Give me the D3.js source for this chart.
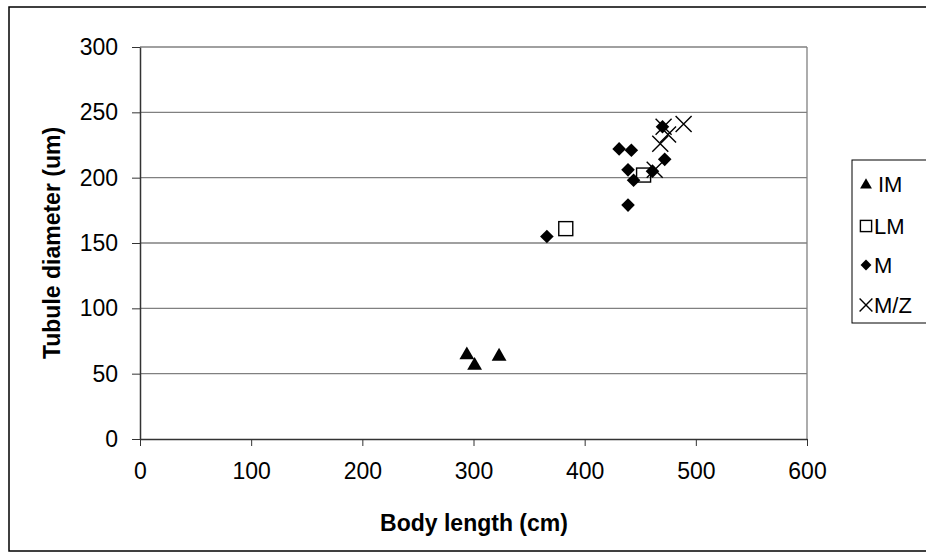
<!DOCTYPE html>
<html><head><meta charset="utf-8">
<script src="https://cdn.jsdelivr.net/npm/d3@7"></script>
<style>body{margin:0;background:#fff}svg{display:block;font-family:"Liberation Sans",Arial,sans-serif}</style>
</head><body><svg id="c" width="926" height="560"></svg>
<script>
const seriesNames = ["IM", "LM", "M", "M/Z"];
const imX = [294, 301, 323];
const imY = [65, 57, 64];
const lmX = [383, 453];
const lmY = [161, 202];
const mX = [366, 431, 442, 439, 444, 439, 461, 472, 470];
const mY = [155, 222, 221, 206, 198, 179, 205, 214, 239];
const mzX = [489, 471, 475, 468, 463];
const mzY = [241, 239, 233, 226, 206];
const xTicks = [0, 100, 200, 300, 400, 500, 600];
const yTicks = [0, 50, 100, 150, 200, 250, 300];

const svg = d3.select("#c");
const x = d3.scaleLinear().domain([0, 600]).range([140, 807]);
const y = d3.scaleLinear().domain([0, 300]).range([439, 47]);

// outer border
svg.append("rect").attr("x", 9).attr("y", 7).attr("width", 940).attr("height", 544)
  .attr("fill", "none").attr("stroke", "#000").attr("stroke-width", 1.5);

// gridlines
svg.append("g").selectAll("line").data(yTicks.filter(d => d > 0)).join("line")
  .attr("x1", 140).attr("x2", 807).attr("y1", d => y(d)).attr("y2", d => y(d))
  .attr("stroke", "#808080").attr("stroke-width", 1.3);
svg.append("line").attr("x1", 807).attr("x2", 807).attr("y1", 47).attr("y2", 439)
  .attr("stroke", "#808080").attr("stroke-width", 1.3);

// axes
const gx = svg.append("g").attr("transform", "translate(0,439)")
  .call(d3.axisBottom(x).tickValues(xTicks).tickSize(7).tickPadding(17).tickSizeOuter(0));
const gy = svg.append("g").attr("transform", "translate(140,0)")
  .call(d3.axisLeft(y).tickValues(yTicks).tickSize(8).tickPadding(14).tickSizeOuter(0));
[gx, gy].forEach(g => {
  g.select(".domain").attr("stroke", "#333").attr("stroke-width", 1.5);
  g.selectAll(".tick line").attr("stroke", "#333");
  g.selectAll("text").attr("font-size", 23).attr("fill", "#000")
    .attr("font-family", "Liberation Sans, Arial, sans-serif");
});

// titles
svg.append("text").attr("x", 474).attr("y", 531).attr("text-anchor", "middle")
  .attr("font-size", 23).attr("font-weight", "bold").text("Body length (cm)");
svg.append("text").attr("transform", "translate(60,243) rotate(-90)").attr("text-anchor", "middle")
  .attr("font-size", 23).attr("font-weight", "bold").text("Tubule diameter (um)");

// markers
const dia = (s) => `M0,${-s}L${s},0L0,${s}L${-s},0Z`;
function drawMarker(g, type, cx, cy, small) {
  const k = small ? 0.8 : 1;
  if (type === "IM") {
    g.append("path").attr("d", d3.symbol().type(d3.symbolTriangle).size(95 * k * k)())
      .attr("transform", `translate(${cx},${cy + 1})`).attr("fill", "#000");
  } else if (type === "LM") {
    const s = 7 * k;
    g.append("rect").attr("x", cx - s).attr("y", cy - s).attr("width", 2 * s).attr("height", 2 * s)
      .attr("fill", "none").attr("stroke", "#000").attr("stroke-width", 1.4);
  } else if (type === "M") {
    g.append("path").attr("d", dia(6.8 * k)).attr("transform", `translate(${cx},${cy})`).attr("fill", "#000");
  } else {
    const s = 8 * k;
    g.append("path").attr("d", `M${-s},${-s}L${s},${s}M${-s},${s}L${s},${-s}`)
      .attr("transform", `translate(${cx},${cy})`).attr("stroke", "#000").attr("stroke-width", 1.4).attr("fill", "none");
  }
}
const pts = svg.append("g");
const series = [[imX, imY], [lmX, lmY], [mX, mY], [mzX, mzY]];
const order = [0, 2, 1, 3];
order.forEach(i => {
  const [xs, ys] = series[i];
  xs.forEach((v, j) => drawMarker(pts, seriesNames[i], x(v), y(ys[j]), false));
});

// legend
svg.append("rect").attr("x", 852).attr("y", 160).attr("width", 100).attr("height", 163)
  .attr("fill", "#fff").attr("stroke", "#000").attr("stroke-width", 1);
const legY = [184, 226, 265, 305];
seriesNames.forEach((n, i) => {
  drawMarker(svg, n, 866, legY[i], true);
  svg.append("text").attr("x", n === "IM" ? 878 : 874).attr("y", legY[i]).attr("dy", "0.35em")
    .attr("font-size", 22).text(n);
});
</script></body></html>
